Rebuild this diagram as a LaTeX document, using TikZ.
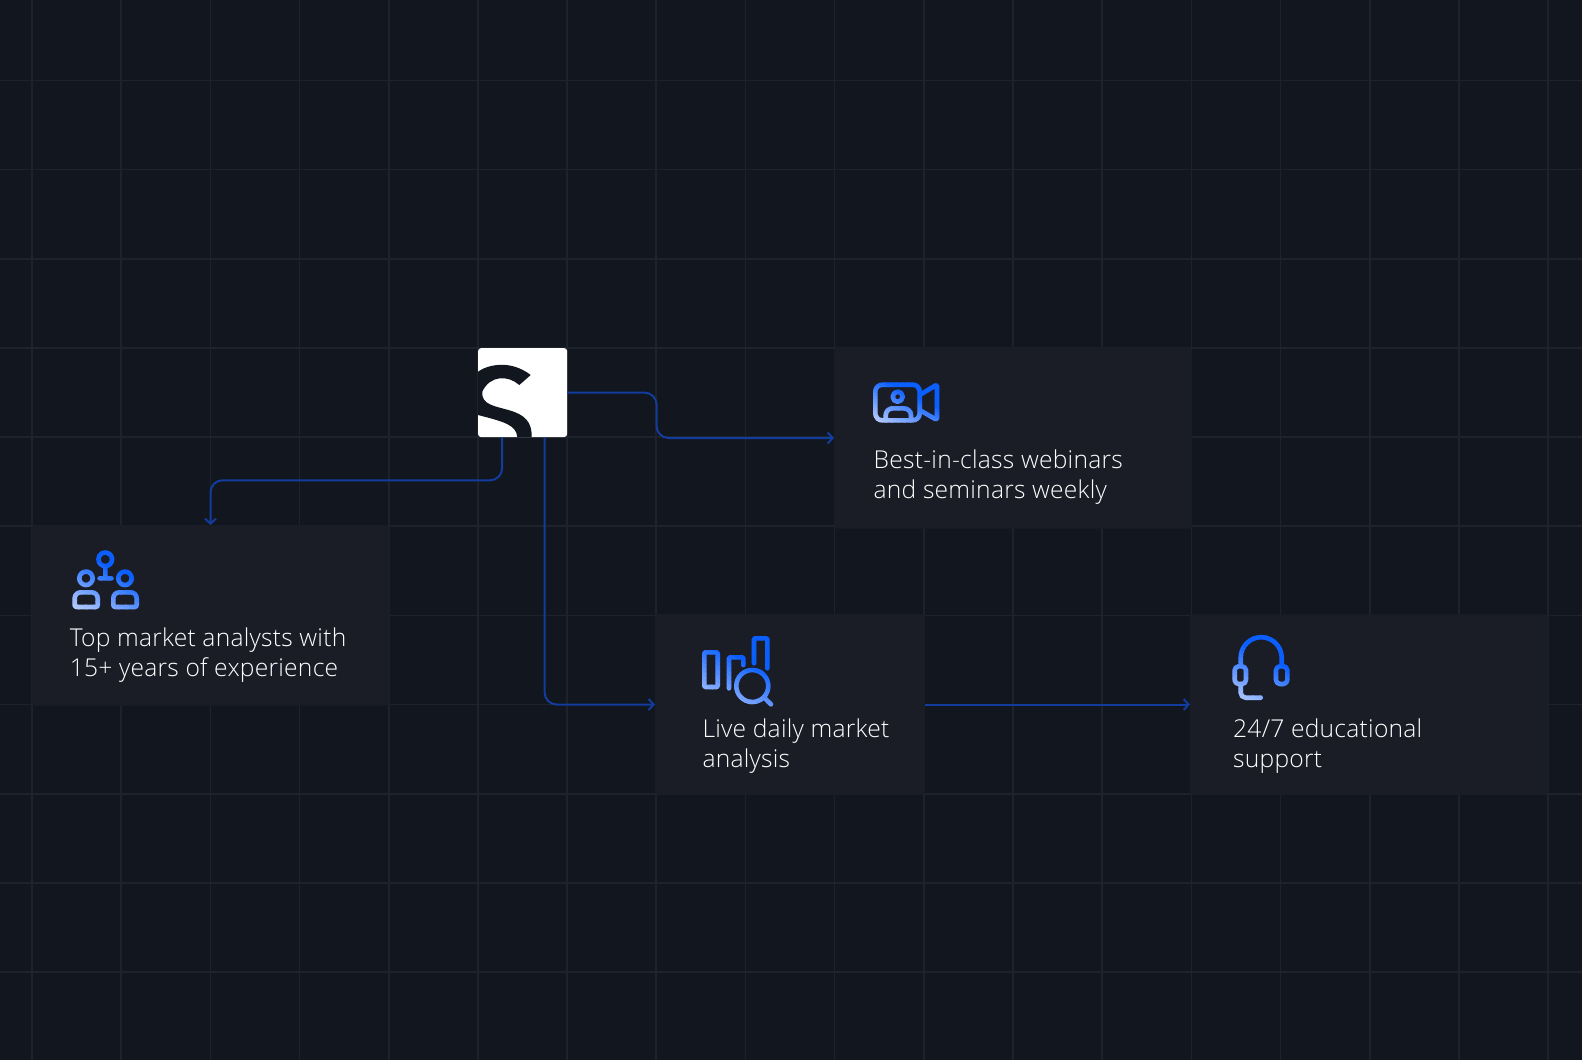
\documentclass[tikz,border=0pt]{standalone}
\usepackage{fontspec}
\setmainfont{Open Sans}[UprightFont=* Light, LetterSpace=1]
\usetikzlibrary{arrows.meta, calc}

\definecolor{bgdark}{HTML}{12161E}
\definecolor{gridline}{HTML}{1E222C}
\definecolor{cardfill}{HTML}{1A1D26}
\definecolor{linkblue}{HTML}{123C9E}
\definecolor{iconblue}{HTML}{0B5FFF}
\definecolor{iconlight}{HTML}{C3D4FF}

% stroke a path in slanted bands, to get the blue to light fade
\newcommand{\fadeicon}[4]{%
  \foreach \band in {0,...,23} {
    \pgfmathsetmacro\bandpos{-#3+2*#3*\band/24}
    \pgfmathsetmacro\bandmix{min(100,(24-\band)/24*150)}
    \begin{scope}
      \clip ($(#1,#2)+(-100,-50+\bandpos)$) -- ($(#1,#2)+(100,50+\bandpos)$)
        -- ($(#1,#2)+(100,50+\bandpos+2*#3/24+0.4)$) -- ($(#1,#2)+(-100,-50+\bandpos+2*#3/24+0.4)$) -- cycle;
      \draw[iconline, draw=iconblue!\bandmix!iconlight] #4;
    \end{scope}
  }
}

\begin{document}
\begin{tikzpicture}[
    x=1pt, y=-1pt,
    card/.style={rectangle, fill=cardfill, rounded corners=3pt, outer sep=0pt, inner sep=0pt},
    label/.style={anchor=west, align=left, text=white, inner sep=0pt,
      font=\fontsize{24.6}{30}\selectfont},
    link/.style={draw=linkblue, line width=2pt, rounded corners=12pt,
      -{Straight Barb[length=5pt,width=11pt]}},
    iconline/.style={line width=4.6pt, line cap=round, line join=round},
  ]
    \fill[bgdark] (0,0) rectangle (1582,1060);
    \useasboundingbox (0,0) rectangle (1582,1060);
    % Grid
    \foreach \k in {0,...,17}
      \draw[gridline, line width=1.6pt] ({32+89.18*\k},0) -- ({32+89.18*\k},1060);
    \foreach \k in {0,...,10}
      \draw[gridline, line width=1.6pt] (0,{80.5+89.15*\k}) -- (1582,{80.5+89.15*\k});

    % Logo and cards
    \node[card, fill=white, minimum width=89pt, minimum height=89pt] (logo) at (522.6,392.6) {};
    \node[card, minimum width=357.6pt, minimum height=180.7pt] (analysts) at (210.5,615.35) {};
    \node[card, minimum width=357.7pt, minimum height=181.3pt] (webinars) at (1012.85,438) {};
    \node[card, minimum width=270pt, minimum height=181pt] (daily) at (790,704.5) {};
    \node[card, minimum width=358.3pt, minimum height=180.5pt] (support) at (1369.15,704.5) {};

    % Logo letter
    \fill[bgdark] (478,371.7) .. controls (487,365) and (510,359) .. (530.7,375)
      -- (519.3,385) .. controls (508,375) and (490,375) .. (482.3,391.7)
      .. controls (481,405) and (495,406) .. (510,410.5)
      .. controls (525,415) and (532,422) .. (531.7,437)
      -- (517.3,437) .. controls (516,425) and (505,422) .. (478,415) -- cycle;

    % Labels
    \node[label] (analysts_text) at (69.6,655) {Top market analysts with\\15+ years of experience};
    \node[label] (webinars_text) at (873.5,477) {Best-in-class webinars\\and seminars weekly};
    \node[label] (daily_text) at (702.3,745.8) {Live daily market\\analysis};
    \node[label] (support_text) at (1233,745.8) {24/7 educational\\support};

    % Edges
    \path[link] (logo.east) -- ++(89.5,0) |- (webinars.west);
    \path[link] ([xshift=-20.5pt]logo.south) |- (210.5,480.3) -- (analysts.north);
    \path[link] ([xshift=22pt]logo.south) |- (daily.west);
    \path[link, rounded corners=0pt] (daily.east) -- (support.west);

    % Icons
    \fadeicon{105}{578}{48}{(105.3,559.3) circle (6.8pt) (105.3,566) -- (105.3,578.3) (99.7,578.3) -- (111.5,578.3)
      (86,578.3) circle (6.7pt) (125,578.3) circle (6.7pt)
      [rounded corners=2pt] (86,607) -- (74.7,607) [rounded corners=6pt] -- (74.7,592.3) -- (97.7,592.3) [rounded corners=2pt] -- (97.7,607) -- cycle
      (125,607) -- (113.3,607) [rounded corners=6pt] -- (113.3,592.3) -- (136.7,592.3) [rounded corners=2pt] -- (136.7,607) -- cycle};
    \fadeicon{906}{402}{36}{(897.7,396.7) circle (5pt)
      [rounded corners=7pt] (875.3,384.7) -- (919.7,384.7) -- (919.7,420.3) -- (875.3,420.3) -- cycle
      (885.7,420) -- (885.7,408.3) -- (911,408.3) -- (911,420)
      [rounded corners=1.5pt] (919.7,395) -- (937,384.5) -- (937,420) -- (919.7,410)};
    \fadeicon{737}{671}{52}{[rounded corners=1pt] (704.3,652.3) -- (717.7,652.3) -- (717.7,687) -- (704.3,687) -- cycle
      (729,688.3) -- (729,657.3) -- (743.3,657.3) -- (743.3,665)
      (754,663.3) -- (754,638.3) -- (767.3,638.3) -- (767.3,668.3)
      (752.3,686) circle (16pt) (765,698.3) -- (771,704.3)};
    \fadeicon{1261}{668}{47}{[rounded corners=20.5pt] (1240.7,666) -- (1240.7,637.2) -- (1281.7,637.2) -- (1281.7,666)
      [rounded corners=4pt] (1234.7,666.3) -- (1246,666.3) -- (1246,684) -- (1234.7,684) -- cycle
      (1276,666.3) -- (1287.3,666.3) -- (1287.3,684) -- (1276,684) -- cycle
      [rounded corners=5pt] (1240.7,685) -- (1240.7,697.7) -- (1260.7,697.7)};
\end{tikzpicture}
\end{document}
